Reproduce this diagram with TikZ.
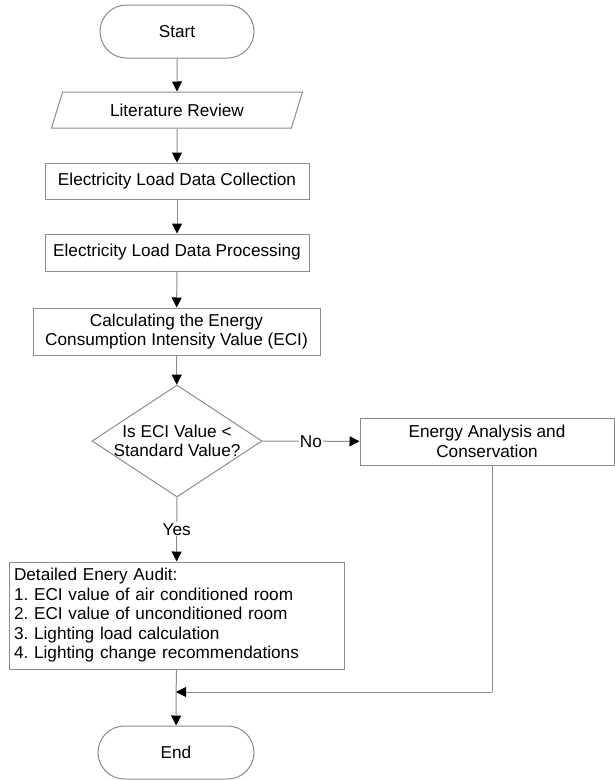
\documentclass[tikz,border=0pt]{standalone}
\usepackage{fontspec}
\setmainfont{Liberation Sans}
\usepackage{tikz}
\usepackage{xcolor}
\usetikzlibrary{positioning, arrows.meta}
\usetikzlibrary{shapes, positioning}
\frenchspacing

\definecolor{linegray}{RGB}{140,140,140}

\begin{document}
\begin{tikzpicture}[x=1pt, y=1pt,
            every node/.style={font=\fontsize{17.2}{19.5}\selectfont},
            term/.style={rectangle, draw=linegray, line width=1pt, rounded corners=26.5pt, minimum width=154pt, minimum height=53pt},
            io/.style={trapezium, trapezium left angle=60, trapezium right angle=120, trapezium stretches body, draw=linegray, line width=1pt, minimum width=251pt, minimum height=36pt},
            proc/.style={rectangle, draw=linegray, line width=1pt, align=center},
            dec/.style={diamond, draw=linegray, line width=1pt, inner sep=0pt, minimum width=170pt, minimum height=112pt},
            flow/.style={draw=linegray, line width=1pt, -{Triangle[color=black, length=10pt, width=10pt]}},
            plain/.style={draw=linegray, line width=1pt}]
            \useasboundingbox (0, 0) rectangle (615, -780);

            \node[term] (1) at (177, -31.5) {Start};
            \node[io] (2) at (177, -110) {Literature Review};
            \node[proc, minimum width=264pt, minimum height=36pt] (3) at (177, -181) {Electricity Load Data Collection};
            \node[proc, minimum width=264pt, minimum height=37pt] (4) at (177, -252.5) {Electricity Load Data Processing};
            \node[proc, minimum width=287pt, minimum height=47pt] (5) at (176.5, -331.5) {Calculating the Energy\\Consumption Intensity Value (ECI)};
            \node[dec, label={[align=center]center:Is ECI Value <\\Standard Value?}] (6) at (177, -441) {};
            \node[proc, minimum width=254pt, minimum height=47pt] (7) at (487, -441.5) {Energy Analysis and\\Conservation};
            \node[proc, align=left, text width=325pt, inner xsep=5pt, minimum height=107pt] (8) at (176.5, -615.5) {Detailed Enery Audit:\\1. ECI value of air conditioned room\\2. ECI value of unconditioned room\\3. Lighting load calculation\\4. Lighting change recommendations};
            \node[term, minimum width=156pt] (9) at (176, -752.5) {End};
            \coordinate (10) at (492, -692);

            \draw[flow] (1) -- (2);
            \draw[flow] (2) -- (3);
            \draw[flow] (3) -- (4);
            \draw[flow] (4) -- (5);
            \draw[flow] (5) -- (6);
            \draw[flow] (6) -- node[fill=white, inner sep=1pt] {No} (7);
            \draw[flow] (6) -- node[fill=white, inner sep=1pt] {Yes} (8);
            \draw[flow] (8) -- (9);
            \draw[plain] (10 |- 7.south) -- (10);
            \draw[flow] (10) -- (10 -| 9.north);
        \end{tikzpicture}
\end{document}
